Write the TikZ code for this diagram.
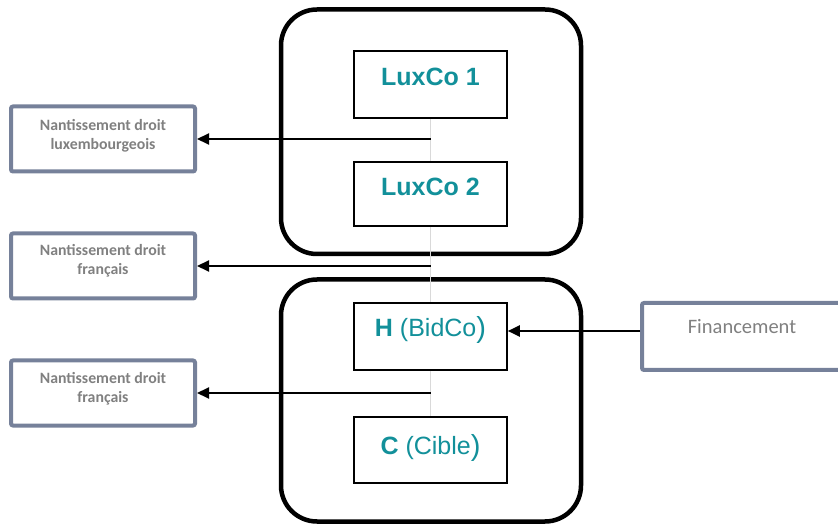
\documentclass[tikz,border=0pt]{standalone}
\usepackage{fontspec}
\setmainfont{Liberation Sans}
\newfontfamily\calib{Carlito}
\usetikzlibrary{arrows.meta,calc}
\definecolor{teal1}{HTML}{12909A}
\definecolor{slate}{HTML}{76819A}
\definecolor{txtgray}{HTML}{808080}
\definecolor{linegray}{HTML}{D9D9D9}
\tikzset{
  group/.style={draw=black, line width=4.5pt, rounded corners=36pt},
  entity/.style={draw=black, line width=1.6pt, fill=white, minimum width=153pt, inner sep=0pt},
  entitytext/.style={text=teal1, font=\fontsize{25}{28}\selectfont, inner sep=0pt},
  sidebox/.style={draw=slate, line width=4pt, rounded corners=2pt, minimum width=184pt, minimum height=65pt, inner sep=0pt},
  sidetext/.style={text=txtgray, font=\calib\bfseries\fontsize{15.8}{19}\selectfont, align=center, inner sep=0pt},
  link/.style={draw=linegray, line width=1.5pt},
  arr/.style={draw=black, line width=2pt, -{Triangle[length=12pt,width=11pt]}}
}
\begin{document}
\begin{tikzpicture}[x=1pt,y=-1pt]
\useasboundingbox (0,0) rectangle (838,526);
\clip (0,0) rectangle (838,526);
% group frames
\draw[group] (281,9.5) rectangle (581,254) coordinate (gtop);
\draw[group] (281,279.5) rectangle (581,521.5) coordinate (gbot);
% entities
\node[entity, minimum height=67pt] (lux1) at (430.5,84.5) {};
\node[entity, minimum height=64pt] (lux2) at (430.5,194) {};
\node[entity, minimum height=67pt] (h) at (430.5,336.5) {};
\node[entity, minimum height=66pt] (c) at (430.5,450) {};
\node[entitytext] (tlux1) at (430.5,77) {\bfseries LuxCo 1};
\node[entitytext] (tlux2) at (430.5,187) {\bfseries LuxCo 2};
\node[entitytext] (th) at (430.5,330) {\bfseries H\mdseries{} (BidCo\raisebox{-0.06em}{\fontsize{29}{30}\selectfont )}};
\node[entitytext] (tc) at (430.5,448) {\bfseries C\mdseries{} (Cible\raisebox{-0.06em}{\fontsize{29}{30}\selectfont )}};
% gray links
\draw[link] (lux1.south) -- (lux2.north);
\draw[link] (lux2.south) -- (h.north);
\draw[link] (h.south) -- (c.north);
% side boxes
\node[sidebox] (n1) at (103,139) {};
\node[sidebox] (n2) at (103,266) {};
\node[sidebox] (n3) at (103,393) {};
\node[sidetext] (tn1) at (103,136) {Nantissement droit\\luxembourgeois};
\node[sidetext] (tn2) at (103,261) {Nantissement droit\\français};
\node[sidetext] (tn3) at (103,389) {Nantissement droit\\français};
\node[draw=slate, line width=4pt, rounded corners=2pt, minimum width=220pt, minimum height=67pt, inner sep=0pt] (fin) at (752,336.5) {};
\node[text=txtgray, font=\calib\fontsize{20.5}{22}\selectfont, inner sep=0pt] (tfin) at (742,327) {Financement};
% arrows
\draw[arr] (lux1.south |- n1.east) -- (n1.east);
\draw[arr] (lux2.south |- n2.east) -- (n2.east);
\draw[arr] (h.south |- n3.east) -- (n3.east);
\coordinate (fy) at (0,331);
\draw[arr] (fin.west |- fy) -- (h.east |- fy);
\end{tikzpicture}
\end{document}
